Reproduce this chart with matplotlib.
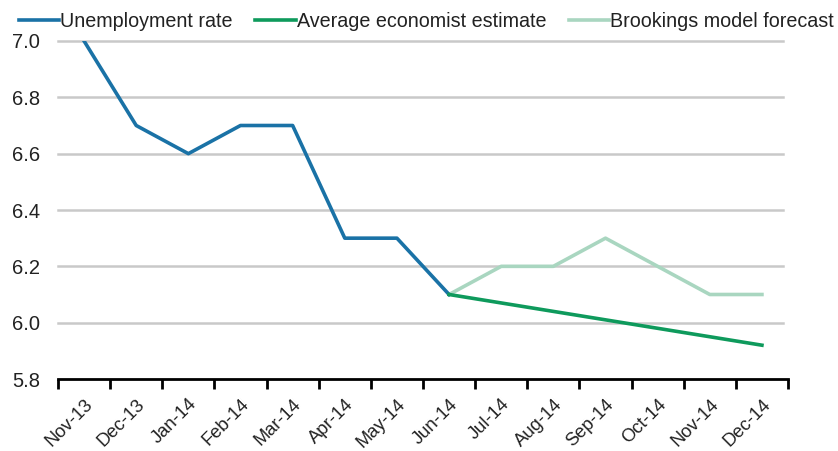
import matplotlib
matplotlib.use("Agg")
import matplotlib.pyplot as plt

plt.rcParams['font.family'] = ['Liberation Sans', 'DejaVu Sans']

months = ["Nov-13", "Dec-13", "Jan-14", "Feb-14", "Mar-14", "Apr-14", "May-14",
          "Jun-14", "Jul-14", "Aug-14", "Sep-14", "Oct-14", "Nov-14", "Dec-14"]
unemployment = [7.0, 6.7, 6.6, 6.7, 6.7, 6.3, 6.3, 6.1]
economist = [6.1, 6.07, 6.04, 6.01, 5.98, 5.95, 5.92]
brookings = [6.1, 6.2, 6.2, 6.3, 6.2, 6.1, 6.1]
yticks = [5.8, 6.0, 6.2, 6.4, 6.6, 6.8, 7.0]

fig = plt.figure(figsize=(8.38, 4.51), dpi=100)
ax = fig.add_axes([58/838, 72/451, (788-58)/838, (410-72)/451])

x = list(range(len(months)))
ax.plot(x[:8], unemployment, color="#1a72a6", lw=2.6, label="Unemployment rate", zorder=3)
ax.plot(x[7:], economist, color="#0e9a5c", lw=2.6, label="Average economist estimate", zorder=3)
ax.plot(x[7:], brookings, color="#a9d6c0", lw=2.6, label="Brookings model forecast", zorder=2)

ax.set_xlim(-0.5, len(months) - 0.5)
ax.set_ylim(5.8, 7.0)
ax.set_yticks(yticks)
ax.set_yticklabels([f"{v:.1f}" for v in yticks], fontsize=14.5, color="#222222")

ax.set_xticks(x)
ax.set_xticklabels(months, rotation=45, ha="right", rotation_mode="anchor",
                   fontsize=13.2, color="#222222")
ax.tick_params(axis="x", length=0, pad=12)
ax.set_xticks([i - 0.5 for i in range(len(months) + 1)], minor=True)
ax.tick_params(axis="x", which="minor", length=7, width=2, direction="out", color="black")
ax.tick_params(axis="y", length=0, pad=13)

for v in yticks[1:]:
    ax.plot([-0.5, len(months) - 0.6], [v, v], color="#c9c9c9", lw=1.8, zorder=1, clip_on=False)

for s in ["top", "right", "left"]:
    ax.spines[s].set_visible(False)
ax.spines["bottom"].set_linewidth(2)
ax.spines["bottom"].set_color("black")

fig.legend(loc="upper left", bbox_to_anchor=(9/838, 0.995), ncol=3, frameon=False,
           fontsize=14.2, handlelength=2.05, handletextpad=0.05, columnspacing=1.15,
           borderaxespad=0.3, borderpad=0.2, labelcolor="#222222")

fig.savefig("out.png", dpi=100)
